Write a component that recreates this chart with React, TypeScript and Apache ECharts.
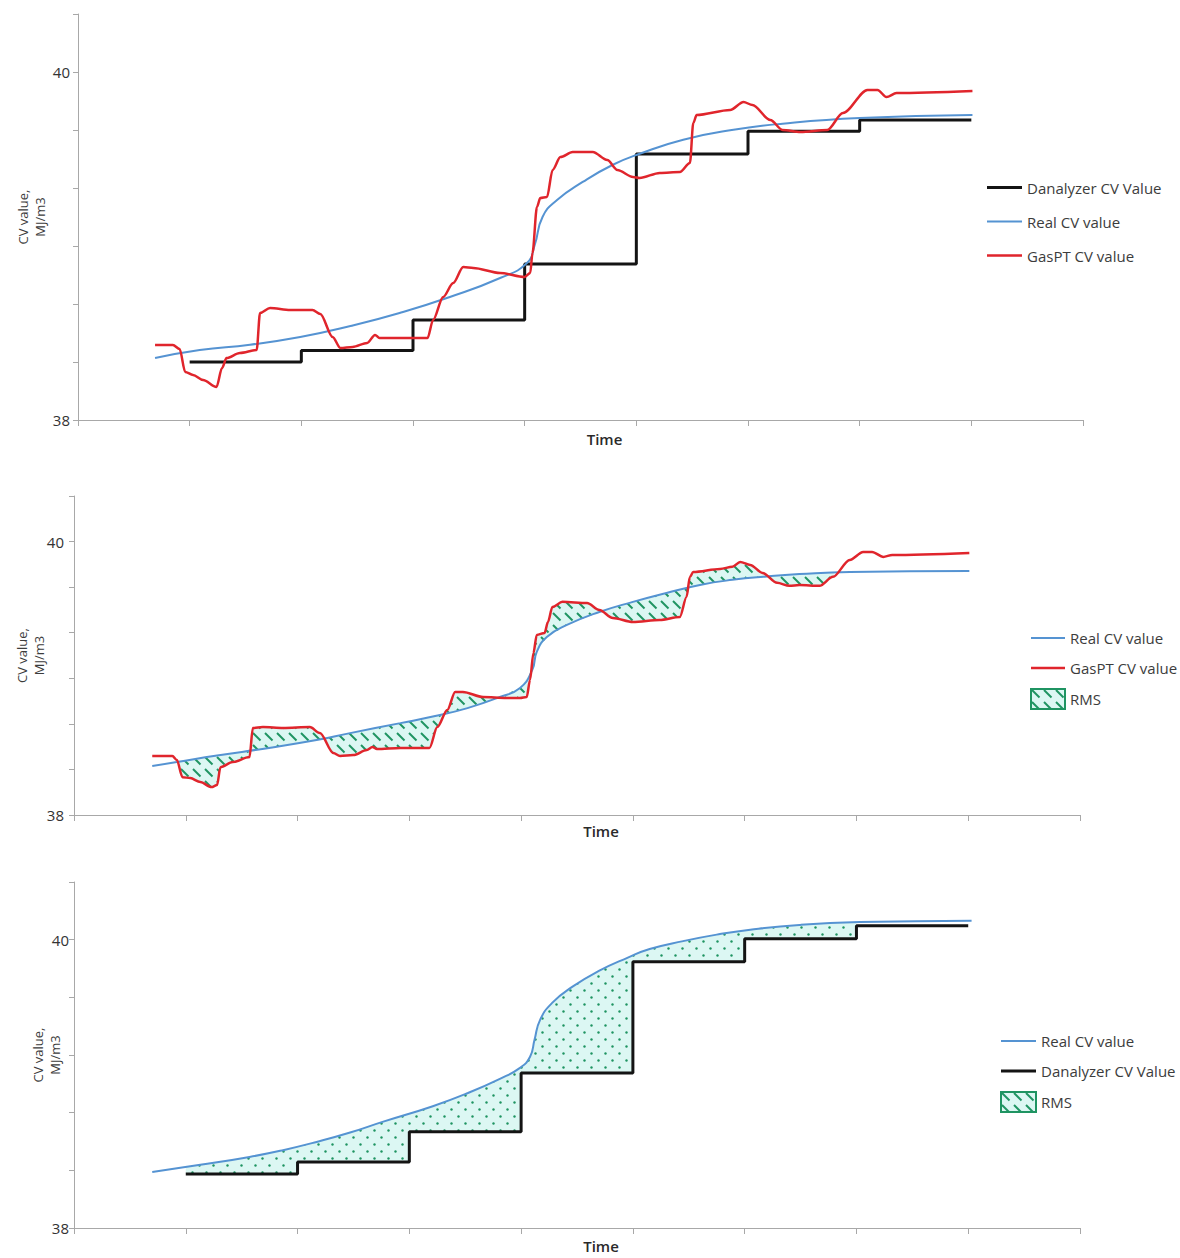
import React, { useEffect, useRef } from 'react';
import * as echarts from 'echarts';

type Pt = [number, number];

// Sampling instants of the analyser (hold steps begin at each of these)
const stepTimes = [1, 2, 3, 4, 5, 6, 7, 8];

// ---- Top panel: analyser vs real vs GasPT ----
const danalyzerTop = [38.333, 38.4, 38.575, 38.897, 39.529, 39.66, 39.724];
const realCvTop: Pt[] = [
  [0.69, 38.356], [1.09, 38.402], [1.54, 38.433], [1.99, 38.477], [2.44, 38.54],
  [2.88, 38.615], [3.33, 38.707], [3.78, 38.816], [4.02, 38.902], [4.09, 39.006],
  [4.16, 39.167], [4.29, 39.264], [4.52, 39.368], [4.79, 39.467], [5.03, 39.53],
  [5.42, 39.611], [5.87, 39.668], [6.31, 39.703], [7.0, 39.735], [8.01, 39.753],
];
const gasPtTop: Pt[] = [
  [0.69, 38.431], [0.85, 38.431], [0.91, 38.408], [0.96, 38.276], [1.03, 38.259],
  [1.12, 38.23], [1.24, 38.19], [1.29, 38.299], [1.33, 38.356], [1.45, 38.385],
  [1.6, 38.402], [1.63, 38.615], [1.72, 38.644], [1.9, 38.632], [2.1, 38.632],
  [2.17, 38.609], [2.28, 38.477], [2.35, 38.414], [2.46, 38.42], [2.59, 38.443],
  [2.66, 38.489], [2.7, 38.471], [2.88, 38.471], [3.13, 38.471], [3.18, 38.575],
  [3.27, 38.707], [3.36, 38.787], [3.45, 38.879], [3.54, 38.874], [3.78, 38.845],
  [4.0, 38.822], [4.05, 38.845], [4.07, 38.96], [4.11, 39.224], [4.14, 39.276],
  [4.2, 39.282], [4.25, 39.437], [4.32, 39.511], [4.43, 39.54], [4.61, 39.54],
  [4.74, 39.494], [4.83, 39.437], [4.97, 39.397], [5.03, 39.391], [5.21, 39.42],
  [5.39, 39.425], [5.48, 39.477], [5.51, 39.707], [5.54, 39.753], [5.84, 39.782],
  [5.96, 39.828], [6.04, 39.81], [6.2, 39.724], [6.31, 39.667], [6.47, 39.655],
  [6.71, 39.667], [6.85, 39.764], [7.07, 39.897], [7.16, 39.897], [7.24, 39.856],
  [7.33, 39.879], [8.01, 39.891],
];

// ---- Middle panel: real vs GasPT with RMS band ----
const realCvMid: Pt[] = [
  [0.7, 38.358], [0.92, 38.387], [1.28, 38.435], [1.73, 38.489], [2.17, 38.548],
  [2.47, 38.599], [2.92, 38.672], [3.21, 38.72], [3.52, 38.782], [3.81, 38.863],
  [3.99, 38.929], [4.1, 39.061], [4.14, 39.193], [4.23, 39.302], [4.41, 39.39],
  [4.7, 39.485], [5.0, 39.559], [5.3, 39.624], [5.6, 39.683], [5.89, 39.72],
  [6.2, 39.745], [6.49, 39.762], [6.94, 39.778], [8.01, 39.785],
];
const gasPtMid: Pt[] = [
  [0.7, 38.431], [0.88, 38.431], [0.92, 38.402], [0.97, 38.277], [1.04, 38.27],
  [1.13, 38.241], [1.23, 38.204], [1.28, 38.219], [1.31, 38.35], [1.42, 38.387],
  [1.57, 38.424], [1.6, 38.636], [1.69, 38.643], [1.87, 38.636], [2.11, 38.643],
  [2.2, 38.599], [2.32, 38.453], [2.38, 38.431], [2.5, 38.438], [2.62, 38.475],
  [2.67, 38.497], [2.71, 38.482], [2.92, 38.49], [3.18, 38.49], [3.25, 38.643],
  [3.34, 38.768], [3.41, 38.9], [3.48, 38.9], [3.66, 38.863], [3.87, 38.856],
  [3.99, 38.856], [4.05, 38.863], [4.08, 38.988], [4.11, 39.185], [4.14, 39.317],
  [4.21, 39.332], [4.24, 39.412], [4.28, 39.522], [4.37, 39.559], [4.59, 39.551],
  [4.7, 39.5], [4.82, 39.441], [5.0, 39.412], [5.24, 39.427], [5.42, 39.449],
  [5.48, 39.595], [5.51, 39.741], [5.54, 39.778], [5.78, 39.8], [5.89, 39.815],
  [5.96, 39.851], [6.05, 39.829], [6.16, 39.771], [6.29, 39.698], [6.4, 39.676],
  [6.49, 39.683], [6.67, 39.676], [6.79, 39.742], [6.94, 39.866], [7.06, 39.924],
  [7.14, 39.924], [7.24, 39.888], [7.32, 39.902], [8.01, 39.917],
];
const rmsRangeMid: [number, number] = [0.92, 6.8];

// ---- Bottom panel: real vs analyser with RMS band ----
const danalyzerBottom = [38.375, 38.458, 38.667, 39.076, 39.847, 40.007, 40.097];
const realCvBottom: Pt[] = [
  [0.7, 38.389], [1.13, 38.438], [1.57, 38.493], [1.87, 38.54], [2.17, 38.597],
  [2.47, 38.662], [2.76, 38.736], [3.21, 38.845], [3.52, 38.935], [3.81, 39.035],
  [3.99, 39.111], [4.08, 39.188], [4.12, 39.306], [4.17, 39.444], [4.28, 39.563],
  [4.46, 39.674], [4.7, 39.785], [4.95, 39.874], [5.15, 39.935], [5.45, 39.99],
  [5.75, 40.035], [6.05, 40.069], [6.49, 40.102], [7.03, 40.122], [8.03, 40.132],
];
const rmsRangeBottom: [number, number] = [1, 7];

const yTickLabels = [38, 40];
const legendTop = ['Danalyzer CV Value', 'Real CV value', 'GasPT CV value'];
const legendMid = ['Real CV value', 'GasPT CV value', 'RMS'];
const legendBottom = ['Real CV value', 'Danalyzer CV Value', 'RMS'];

const BLUE = '#5593d2';
const RED = '#e0252c';
const BLACK = '#141414';
const AXIS = '#a8a8a8';
const TEXT = '#3c3c3c';
const FONT = 'Open Sans';
const lineWidths: Record<string, number> = {
  'Danalyzer CV Value': 3,
  'Real CV value': 2,
  'GasPT CV value': 2.5,
};

// Expand hold levels into explicit step vertices
function stepPoints(times: number[], levels: number[]): Pt[] {
  const pts: Pt[] = [];
  levels.forEach((l, i) => {
    pts.push([times[i], l]);
    pts.push([times[i + 1], l]);
  });
  return pts;
}

function valueAt(s: Pt[], x: number): number {
  if (x <= s[0][0]) return s[0][1];
  for (let i = 0; i < s.length - 1; i++) {
    const [x0, y0] = s[i];
    const [x1, y1] = s[i + 1];
    if (x >= x0 && x <= x1) {
      if (x1 === x0) return y0;
      return y0 + ((y1 - y0) * (x - x0)) / (x1 - x0);
    }
  }
  return s[s.length - 1][1];
}

// Closed outline between two curves over [x0, x1]
function bandBetween(a: Pt[], b: Pt[], x0: number, x1: number): Pt[] {
  const xs = Array.from(
    new Set([x0, x1, ...a.map((p) => p[0]), ...b.map((p) => p[0])].filter((x) => x >= x0 && x <= x1))
  ).sort((p, q) => p - q);
  const top = xs.map((x) => [x, valueAt(a, x)] as Pt);
  const bottom = xs.map((x) => [x, valueAt(b, x)] as Pt).reverse();
  return [...top, ...bottom];
}

function bandToSteps(curve: Pt[], steps: Pt[], x0: number, x1: number): Pt[] {
  const xs = Array.from(
    new Set([x0, x1, ...curve.map((p) => p[0])].filter((x) => x >= x0 && x <= x1))
  ).sort((p, q) => p - q);
  const top = xs.map((x) => [x, valueAt(curve, x)] as Pt);
  const bottom = steps.filter((p) => p[0] >= x0 && p[0] <= x1).slice().reverse();
  return [...top, ...bottom];
}

function makeHatch(kind: 'dash' | 'dot') {
  const s = kind === 'dash' ? 12 : 14;
  const c = document.createElement('canvas');
  c.width = s;
  c.height = s;
  const g = c.getContext('2d')!;
  g.fillStyle = '#dcf7f3';
  g.fillRect(0, 0, s, s);
  g.strokeStyle = '#1f9462';
  g.fillStyle = '#1f9462';
  if (kind === 'dash') {
    g.lineWidth = 2;
    g.beginPath();
    g.moveTo(1, 1);
    g.lineTo(8.5, 8.5);
    g.stroke();
  } else {
    [3.5, 10.5].forEach((p) => {
      g.beginPath();
      g.arc(p, p, 1.2, 0, Math.PI * 2);
      g.fill();
    });
  }
  return { image: c.toDataURL(), imageWidth: s, imageHeight: s, repeat: 'repeat' as const };
}

// Legend glyph: a horizontal bar of the series' thickness inside a w×h box
function lineIcon(w: number, h: number, t: number) {
  const y0 = (h - t) / 2;
  return (
    `path://M0,0h0.01v0.01h-0.01z M0,${y0}h${w}v${t}h-${w}z ` +
    `M${w - 0.01},${h - 0.01}h0.01v0.01h-0.01z`
  );
}

function legendItems(names: string[], w: number, h: number) {
  return names.map((n) =>
    n === 'RMS' ? { name: n, icon: 'rect' } : { name: n, icon: lineIcon(w, h, lineWidths[n]) }
  );
}

function isLabelled(v: number) {
  return yTickLabels.some((t) => Math.abs(v - t) < 1e-6);
}

export default function App() {
  const ref = useRef<HTMLDivElement>(null);

  useEffect(() => {
    document.body.style.margin = '0';
    if (!ref.current) return;
    const chart = echarts.init(ref.current, undefined, { renderer: 'svg' });

    const hatchDash = makeHatch('dash');
    const hatchDot = makeHatch('dot');

    const danTopPts = stepPoints(stepTimes, danalyzerTop);
    const danBottomPts = stepPoints(stepTimes, danalyzerBottom);
    const bandMid = bandBetween(gasPtMid, realCvMid, rmsRangeMid[0], rmsRangeMid[1]);
    const bottomStepsInRange = stepPoints(stepTimes.slice(0, 7), danalyzerBottom.slice(0, 6));
    const bandBottom = bandToSteps(realCvBottom, bottomStepsInRange, rmsRangeBottom[0], rmsRangeBottom[1]);

    const grids = [
      { left: 78, top: 14, width: 1005, height: 406 },
      { left: 74, top: 496, width: 1006, height: 319 },
      { left: 74, top: 882, width: 1006, height: 346 },
    ];
    const yMax = [40 + 1 / 3, 40 + 1 / 3, 40.4];
    const yInt = [1 / 3, 1 / 3, 0.4];
    const nameGapY = [30, 27, 11];
    const labelMargin = [8, 10, 5];
    const timeGap = [11, 8, 10];

    const xAxes = grids.map((_, i) => ({
      type: 'value',
      gridIndex: i,
      min: 0,
      max: 9,
      interval: 1,
      name: 'Time',
      nameLocation: 'middle',
      nameGap: timeGap[i],
      nameMoveOverlap: false,
      nameTextStyle: {
        fontSize: 15,
        fontWeight: 600,
        color: '#2a2a2a',
        fontFamily: FONT,
        padding: [0, 0, 0, 48],
      },
      axisLine: { show: true, lineStyle: { color: AXIS, width: 1 } },
      axisTick: { show: true, length: 6, lineStyle: { color: AXIS } },
      axisLabel: { show: false },
      splitLine: { show: false },
    }));

    const yAxes = grids.map((_, i) => ({
      type: 'value',
      gridIndex: i,
      min: 38,
      max: yMax[i],
      interval: yInt[i],
      name: 'CV value,\nMJ/m3',
      nameLocation: 'middle',
      nameRotate: 90,
      nameGap: nameGapY[i],
      nameMoveOverlap: false,
      nameTextStyle: { fontSize: 13, color: TEXT, fontFamily: FONT, lineHeight: 17 },
      axisLine: { show: true, lineStyle: { color: AXIS, width: 1 } },
      axisTick: { show: true, length: 5, lineStyle: { color: AXIS } },
      axisLabel: {
        margin: labelMargin[i],
        fontSize: 15,
        color: '#333',
        fontFamily: FONT,
        showMaxLabel: true,
        formatter: (v: number) => (isLabelled(v) ? String(Math.round(v)) : ''),
      },
      splitLine: { show: false },
    }));

    const line = (
      name: string,
      data: Pt[],
      idx: number,
      color: string,
      smooth: number | boolean,
      monotone: boolean
    ) => ({
      type: 'line',
      name,
      xAxisIndex: idx,
      yAxisIndex: idx,
      data,
      symbol: 'none',
      smooth,
      ...(monotone ? { smoothMonotone: 'x' } : {}),
      lineStyle: { color, width: lineWidths[name] },
      itemStyle: { color },
      z: 3,
    });

    const band = (poly: Pt[], idx: number, pattern: any) => ({
      type: 'custom',
      name: 'RMS',
      xAxisIndex: idx,
      yAxisIndex: idx,
      data: [[poly[0][0], poly[0][1]]],
      itemStyle: { color: pattern, borderColor: '#1f9462', borderWidth: 1 },
      z: 1,
      renderItem: (_params: any, api: any) => ({
        type: 'polygon',
        shape: { points: poly.map((p) => api.coord(p)) },
        style: { fill: pattern, stroke: 'none' },
      }),
    });

    const legendText = { fontSize: 15, color: TEXT, fontFamily: FONT };

    chart.setOption({
      animation: false,
      textStyle: { fontFamily: FONT },
      grid: grids,
      xAxis: xAxes,
      yAxis: yAxes,
      legend: [
        {
          data: legendItems(legendTop, 35, 14),
          orient: 'vertical',
          left: 987,
          top: 180,
          padding: 0,
          itemWidth: 35,
          itemHeight: 14,
          itemGap: 19,
          textStyle: legendText,
          selectedMode: false,
        },
        {
          data: legendItems(legendMid, 34, 20),
          orient: 'vertical',
          left: 1030,
          top: 628,
          padding: 0,
          itemWidth: 34,
          itemHeight: 20,
          itemGap: 10,
          textStyle: legendText,
          selectedMode: false,
        },
        {
          data: legendItems(legendBottom, 35, 20),
          orient: 'vertical',
          left: 1000,
          top: 1031,
          padding: 0,
          itemWidth: 35,
          itemHeight: 20,
          itemGap: 10,
          textStyle: legendText,
          selectedMode: false,
        },
      ],
      series: [
        line('Danalyzer CV Value', danTopPts, 0, BLACK, false, false),
        line('Real CV value', realCvTop, 0, BLUE, 0.5, false),
        line('GasPT CV value', gasPtTop, 0, RED, 0.3, true),

        band(bandMid, 1, hatchDash),
        line('Real CV value', realCvMid, 1, BLUE, 0.5, false),
        line('GasPT CV value', gasPtMid, 1, RED, 0.3, true),

        band(bandBottom, 2, hatchDot),
        line('Real CV value', realCvBottom, 2, BLUE, 0.5, false),
        line('Danalyzer CV Value', danBottomPts, 2, BLACK, false, false),
      ],
    });

    return () => chart.dispose();
  }, []);

  return <div ref={ref} style={{ width: 1180, height: 1258 }} />;
}
